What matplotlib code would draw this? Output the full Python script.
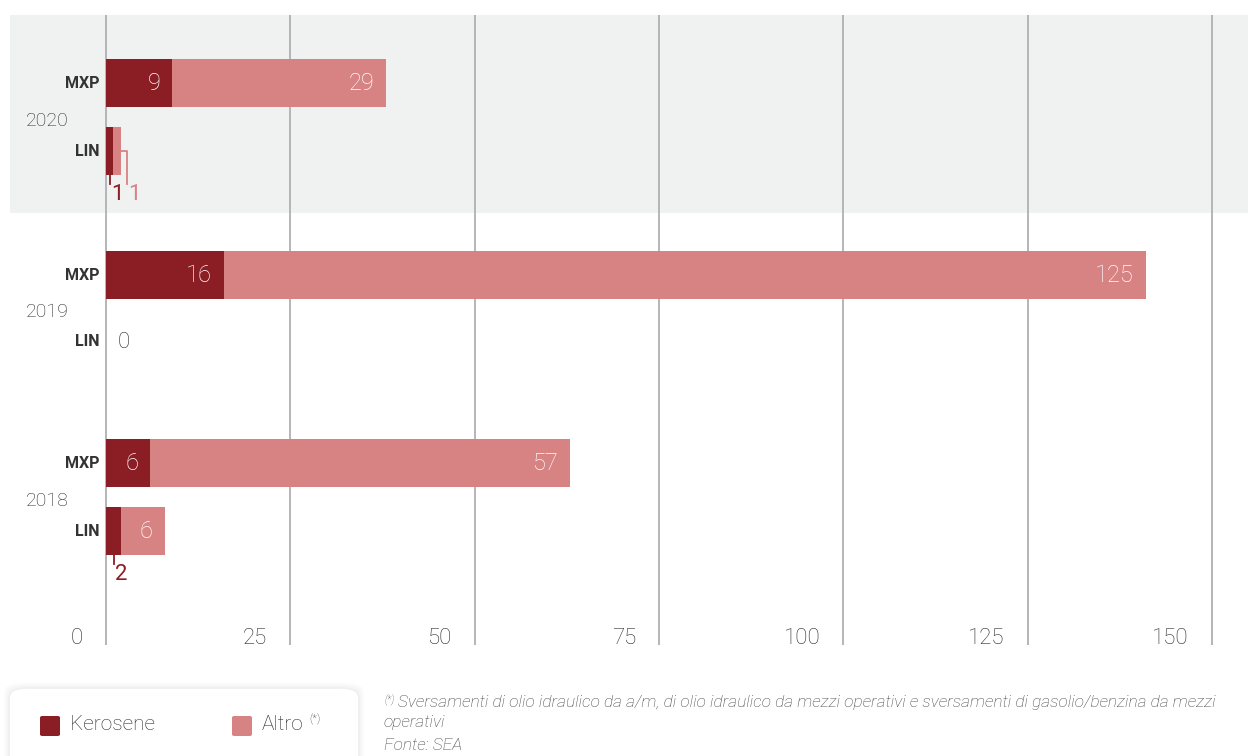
import numpy as np
import matplotlib.pyplot as plt
from matplotlib.patches import Rectangle, FancyBboxPatch

plt.rcParams['font.family'] = ['Roboto', 'DejaVu Sans']

# data
years = ["2020", "2019", "2018"]
airports = ["MXP", "LIN"]
kerosene = [9, 1, 16, 0, 6, 2]      # MXP, LIN for each year
altro = [29, 1, 125, 0, 57, 6]
ticks = [0, 25, 50, 75, 100, 125, 150]

dark = "#8a1e24"
pink = "#d78384"
grid = "#b3b6b8"
txt = "#333333"
light_txt = "#2b2b2b"

# layout (pixels)
W, H = 1249, 756
x0, ppu = 106, 7.373           # pixel of value 0, pixels per unit
row_y = [83, 151, 275, 342, 463, 531]
year_y = [120, 311, 500]
bar_h = 48


def px(x):
    return (x - x0) / ppu


fig = plt.figure(figsize=(W / 100, H / 100), dpi=100)
ax = fig.add_axes([0, 0, 1, 1])
ax.set_xlim(px(0), px(W))
ax.set_ylim(H, 0)
ax.axis("off")

# grey band behind 2020
ax.add_patch(Rectangle((px(10), 15), px(1248) - px(10), 198,
                       facecolor="#f0f2f1", edgecolor="none", zorder=0))

# grid lines and tick labels
ax.vlines(ticks, 15, 645, color=grid, lw=1.4, zorder=1)
for t in ticks:
    ax.text(t - 23 / ppu, 638, str(t), ha="right", va="center",
            fontsize=16, color=light_txt, fontweight="light")

# bars
kero = np.array(kerosene)
alt = np.array(altro)
ax.barh(row_y, kero, height=bar_h, color=dark, zorder=2)
ax.barh(row_y, alt, left=kero, height=bar_h, color=pink, zorder=2)

# row labels
for i, y in enumerate(row_y):
    ax.text(px(100), y, airports[i % 2], ha="right", va="center",
            fontsize=11.5, fontweight="bold", color=txt)
for yr, y in zip(years, year_y):
    ax.text(px(26), y + 1, yr, ha="left", va="center", fontsize=14,
            color=light_txt, fontweight="light")

# value labels
pad = 12 / ppu
for k, a, y in zip(kero, alt, row_y):
    bot = y + bar_h / 2
    if k + a == 0:
        ax.text(px(118), y + 1, "0", ha="left", va="center", fontsize=16,
                color=light_txt, fontweight="light")
        continue
    if k >= 4:
        ax.text(k - pad, y, str(k), ha="right", va="center", fontsize=17,
                color="white", fontweight="light", zorder=3)
    else:
        xm = k / 2 + 0.5 / ppu
        ax.plot([xm, xm], [bot, bot + 9], color=dark, lw=1.3, zorder=3)
        ax.text(xm + 1 / ppu, bot + 19, str(k), ha="left", va="center",
                fontsize=16, color=dark)
    if a >= 4:
        ax.text(k + a - pad, y, str(a), ha="right", va="center", fontsize=17,
                color="white", fontweight="light", zorder=3)
    else:
        xe = k + a
        xl = xe + 6 / ppu
        ax.plot([xe, xl, xl], [y, y, bot + 9], color=pink, lw=1.3, zorder=3)
        ax.text(xl + 1 / ppu, bot + 19, str(a), ha="left", va="center",
                fontsize=16, color=pink)

# legend box
for off, a in [(6, 0.08), (4, 0.12), (2, 0.18)]:
    fig.patches.append(FancyBboxPatch(((10 - off) / W, -20 / H),
                                      (348 + 2 * off) / W, (87 + off) / H,
                                      boxstyle="round,pad=0,rounding_size=0.014",
                                      transform=fig.transFigure,
                                      facecolor="#d8d8d8", edgecolor="none",
                                      zorder=0, alpha=a))
fig.patches.append(FancyBboxPatch((10 / W, -20 / H), 348 / W, 87 / H,
                                  boxstyle="round,pad=0,rounding_size=0.012",
                                  transform=fig.transFigure, facecolor="white",
                                  edgecolor="none", zorder=1))
for xs, c, lab in [(40, dark, "Kerosene"), (232, pink, "Altro")]:
    fig.patches.append(FancyBboxPatch((xs / W, (H - 736) / H), 20 / W, 20 / H,
                                      boxstyle="round,pad=0,rounding_size=0.002",
                                      transform=fig.transFigure, facecolor=c,
                                      edgecolor="none", zorder=2))
    fig.text((xs + 30) / W, (H - 725) / H, lab, ha="left", va="center",
             fontsize=15, color=light_txt, fontweight="light", zorder=3)
fig.text(309 / W, (H - 719) / H, "(*)", ha="left", va="center",
         fontsize=8, color=light_txt, fontweight="light")

# footnote
note = "#444444"
fig.text(384 / W, (H - 700) / H, "(*)", ha="left", va="center",
         fontsize=7.5, color=note, style="italic", fontweight="light")
fig.text(398 / W, (H - 703) / H,
         "Sversamenti di olio idraulico da a/m, di olio idraulico da mezzi "
         "operativi e sversamenti di gasolio/benzina da mezzi",
         ha="left", va="center", fontsize=12.4, color=note,
         style="italic", fontweight="light")
fig.text(384 / W, (H - 722) / H, "operativi", ha="left", va="center",
         fontsize=12.4, color=note, style="italic", fontweight="light")
fig.text(384 / W, (H - 746) / H, "Fonte: SEA", ha="left", va="center",
         fontsize=12.4, color=note, style="italic", fontweight="light")

fig.savefig("out.png", dpi=100)
